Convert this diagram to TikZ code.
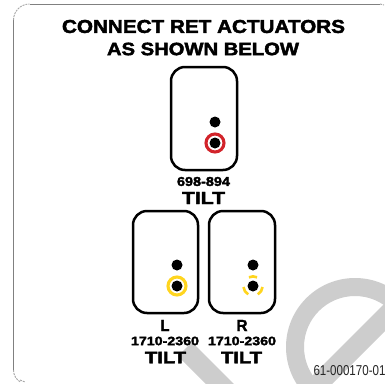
\documentclass[tikz,border=0pt]{standalone}
\usepackage{graphicx}
\usepackage{fontspec}
\setmainfont{Liberation Sans}
\newfontfamily\heavyfont[FakeBold=2.2]{Liberation Sans Bold}
\definecolor{wm}{HTML}{CDCDCD}
\definecolor{ringred}{HTML}{D2232A}
\definecolor{ringyel}{HTML}{FFD51E}
\definecolor{frameg}{HTML}{808080}
\newcommand{\fitbold}[3]{\resizebox{#1pt}{#2pt}{\heavyfont #3}}
\newcommand{\fitreg}[3]{\resizebox{#1pt}{#2pt}{#3}}
\tikzset{
  panel/.style={draw=black,line width=2.5pt,rounded corners=14pt},
  pin/.style={circle,fill=black,inner sep=0pt,minimum size=11pt},
  lab/.style={inner sep=0pt,text=black},
  redring/.style={draw=ringred,line width=3.1pt},
  yelring/.style={draw=ringyel,line width=3.1pt},
  yelarc/.style={draw=ringyel,line width=2.6pt},
  framing/.style={draw=frameg,line width=0.9pt},
  framecorner/.style={draw=frameg!70,line width=0.9pt,dash pattern=on 2pt off 1pt}
}
\begin{document}
\begin{tikzpicture}[x=1pt,y=-1pt]
\useasboundingbox (0,0) rectangle (385,383);
\clip (0,0) rectangle (385,383);
\fill[white] (0,0) rectangle (385,383);
% watermark
\fill[wm,even odd rule] (355,347) circle[radius=69] (355,347) circle[radius=51];
\fill[wm] (400,288) -- (400,316) -- (320,396) -- (292,396) -- cycle;
\fill[wm] (192,342) -- (250,400) -- (222,400) -- (178,356) -- cycle;
% frame
\draw[framing] (13.5,370) -- (13.5,20);
\draw[framecorner] (13.5,20) arc[start angle=180,end angle=270,radius=16];
\draw[framing] (29.5,4) -- (380,4);
\draw[framecorner] (380,4) -- (384,5);
\draw[framecorner] (13.5,370) arc[start angle=180,end angle=120,radius=14];
\draw[framecorner] (20,380) -- (25,382);
% title
\node[lab] (title1) at (203.5,26.5) {\fitbold{283}{13}{CONNECT RET ACTUATORS}};
\node[lab] (title2) at (203,49) {\fitbold{192}{12.5}{AS SHOWN BELOW}};
% top panel
\node[panel,minimum width=66pt,minimum height=103pt,inner sep=0pt] (ptop) at (204,118.5) {};
\node[pin] (ptopa) at (215,122) {};
\node[pin] (ptopb) at (215,143) {};
\draw[redring] (ptopb) circle[radius=9];
\node[lab] (band1) at (203.5,181.5) {\fitbold{53}{9}{698-894}};
\node[lab] (tilt1) at (203.5,198) {\fitbold{43}{12}{TILT}};
% lower left
\node[panel,minimum width=65pt,minimum height=102pt,inner sep=0pt] (pl) at (165.5,262) {};
\node[pin] (pla) at (177,265) {};
\node[pin] (plb) at (177,286) {};
\draw[yelring] (plb) circle[radius=9];
\node[lab] (ll) at (165,325.5) {\fitbold{9}{11}{L}};
\node[lab] (band2) at (165,341) {\fitbold{68}{8.5}{1710-2360}};
\node[lab] (tilt2) at (165.5,357.5) {\fitbold{41}{11.5}{TILT}};
% lower right
\node[panel,minimum width=66pt,minimum height=102pt,inner sep=0pt] (pr) at (242,262) {};
\node[pin] (pra) at (253,265) {};
\node[pin] (prb) at (253,286) {};
\draw[yelarc] (prb) ++(-65:9.6) arc[start angle=-65,end angle=-115,radius=9.6];
\draw[yelarc] (prb) ++(174:9.6) arc[start angle=174,end angle=120,radius=9.6];
\draw[yelarc] (prb) ++(6:9.6) arc[start angle=6,end angle=60,radius=9.6];
\node[lab] (rr) at (242,325.5) {\fitbold{11}{11}{R}};
\node[lab] (band3) at (242,341) {\fitbold{68}{8.5}{1710-2360}};
\node[lab] (tilt3) at (241.5,357.5) {\fitbold{41}{11.5}{TILT}};
% code
\node[lab,text=black!85] (code) at (349.5,370.5) {\fitreg{72}{10}{61-000170-01}};
\end{tikzpicture}
\end{document}
